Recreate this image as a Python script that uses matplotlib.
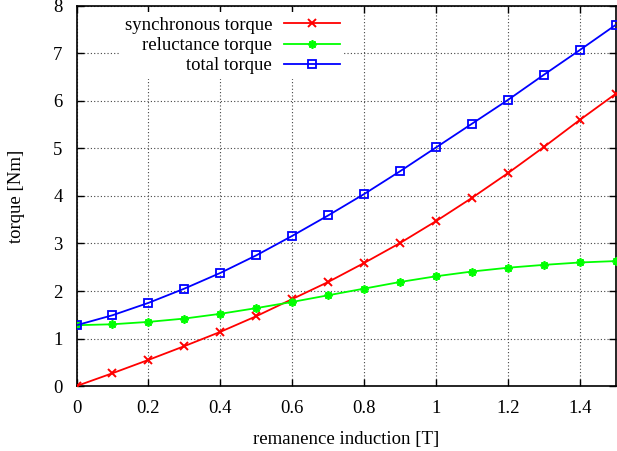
import matplotlib
matplotlib.use("Agg")
import matplotlib.pyplot as plt
import numpy as np

plt.rcParams['font.family'] = ['Liberation Serif', 'DejaVu Serif']
plt.rcParams['font.size'] = 13.5

# remanence induction [T]
b_rem = [0.0, 0.1, 0.2, 0.3, 0.4, 0.5, 0.6, 0.7, 0.8, 0.9,
         1.0, 1.1, 1.2, 1.3, 1.4, 1.5]
# torques [Nm]
sync_torque = [0.0, 0.27, 0.55, 0.84, 1.14, 1.47, 1.83, 2.19, 2.59, 3.01,
               3.47, 3.96, 4.48, 5.03, 5.60, 6.15]
rel_torque = [1.28, 1.30, 1.35, 1.42, 1.52, 1.64, 1.77, 1.91, 2.05, 2.19,
              2.31, 2.41, 2.49, 2.55, 2.60, 2.63]
total_torque = [1.28, 1.49, 1.75, 2.05, 2.38, 2.75, 3.16, 3.59, 4.04, 4.52,
                5.02, 5.52, 6.02, 6.55, 7.07, 7.60]

xticks = [0, 0.2, 0.4, 0.6, 0.8, 1, 1.2, 1.4]
xlabels = ["0", "0.2", "0.4", "0.6", "0.8", "1", "1.2", "1.4"]
yticks = [0, 1, 2, 3, 4, 5, 6, 7, 8]

fig = plt.figure(figsize=(6.17, 4.51), dpi=100)
ax = fig.add_axes([0.124, 0.144, 0.874, 0.843])

ax.plot(b_rem, sync_torque, color='#ff0000', lw=1.3, marker='x', ms=5.5,
        mew=1.4, label='synchronous torque', zorder=3)
ax.plot(b_rem, rel_torque, color='#00ff00', lw=1.3, marker=(8, 2, 0), ms=6,
        mew=1.3, label='reluctance torque', zorder=3)
ax.plot(b_rem, total_torque, color='#0000ff', lw=1.3, marker='s', ms=5.5,
        mfc='none', mew=1.3, label='total torque', zorder=3)

ax.set_xlim(0, 1.5)
ax.set_ylim(0, 8)
ax.set_xticks(xticks)
ax.set_xticklabels(xlabels)
ax.set_yticks(yticks)
ax.tick_params(direction='in', top=True, right=True, length=5, width=1,
               pad=10)
ax.grid(True, color='#444444', linestyle=(0, (1, 2)), linewidth=0.8)
for s in ax.spines.values():
    s.set_linewidth(1.2)

ax.set_xlabel('remanence induction [T]', labelpad=10)
ax.set_ylabel('torque [Nm]', labelpad=20)

leg = ax.legend(loc='upper left', bbox_to_anchor=(0.063, 1.008),
                markerfirst=False, frameon=True, fancybox=False,
                handlelength=2.95, handletextpad=0.65, labelspacing=0.16,
                borderpad=0.25)
leg.get_frame().set_edgecolor('none')
leg.get_frame().set_facecolor('white')
leg.get_frame().set_alpha(1)

fig.savefig('out.png', dpi=100)
